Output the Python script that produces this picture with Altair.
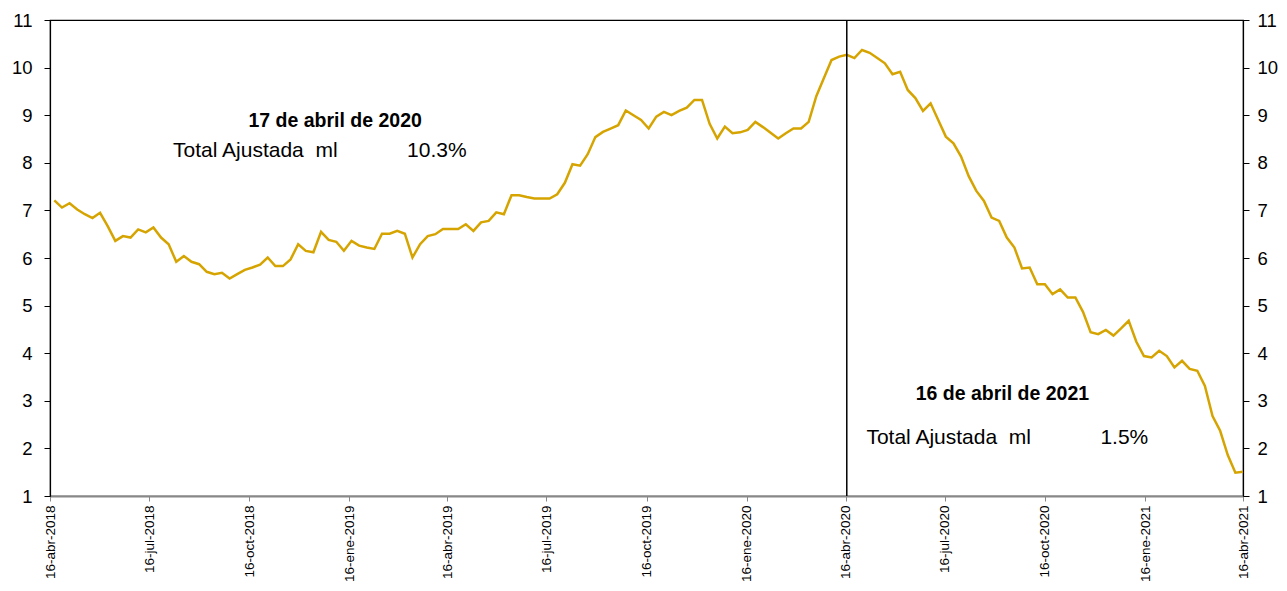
import altair as alt
import pandas as pd

# Weekly series (Fridays), 20-abr-2018 .. 16-abr-2021
serie_inicio = "2018-04-20"
tasa = [
    7.21, 7.06, 7.15, 7.02, 6.92, 6.84, 6.95, 6.67, 6.36, 6.46,
    6.43, 6.60, 6.54, 6.64, 6.43, 6.29, 5.92, 6.04, 5.92, 5.87,
    5.71, 5.66, 5.69, 5.57, 5.66, 5.75, 5.80, 5.86, 6.01, 5.83,
    5.83, 5.97, 6.29, 6.15, 6.12, 6.55, 6.38, 6.34, 6.15, 6.36,
    6.26, 6.22, 6.19, 6.51, 6.51, 6.57, 6.51, 6.01, 6.29, 6.46,
    6.50, 6.61, 6.61, 6.61, 6.71, 6.57, 6.75, 6.78, 6.96, 6.92,
    7.32, 7.32, 7.28, 7.25, 7.25, 7.25, 7.34, 7.58, 7.97, 7.94,
    8.18, 8.54, 8.65, 8.72, 8.79, 9.10, 9.00, 8.90, 8.72, 8.97,
    9.07, 9.00, 9.09, 9.16, 9.32, 9.32, 8.82, 8.51, 8.76, 8.62,
    8.64, 8.69, 8.86, 8.75, 8.63, 8.51, 8.62, 8.72, 8.72, 8.86,
    9.40, 9.78, 10.16, 10.23, 10.27, 10.20, 10.37, 10.31, 10.20, 10.09,
    9.86, 9.91, 9.53, 9.36, 9.09, 9.25, 8.90, 8.55, 8.41, 8.13,
    7.72, 7.41, 7.20, 6.85, 6.78, 6.43, 6.22, 5.78, 5.80, 5.45,
    5.45, 5.24, 5.34, 5.17, 5.17, 4.87, 4.44, 4.40, 4.49, 4.37,
    4.52, 4.68, 4.24, 3.94, 3.91, 4.05, 3.94, 3.70, 3.84, 3.67,
    3.63, 3.31, 2.68, 2.37, 1.86, 1.49, 1.51,
]

# Axis ticks (16th of each quarter) and Spanish month names
tick_fechas = [
    (2018, 4), (2018, 7), (2018, 10), (2019, 1), (2019, 4), (2019, 7),
    (2019, 10), (2020, 1), (2020, 4), (2020, 7), (2020, 10), (2021, 1), (2021, 4),
]
meses = ["ene", "feb", "mar", "abr", "may", "jun", "jul", "ago", "sep", "oct", "nov", "dic"]
y_ticks = [1, 2, 3, 4, 5, 6, 7, 8, 9, 10, 11]

# Vertical marker
marca_fecha = ["2020-04-17T00:00:00"]

# Annotations
titulos = ["17 de abril de 2020", "16 de abril de 2021"]
titulos_fecha = ["2019-01-03T00:00:00", "2020-09-07T00:00:00"]
titulos_y = [8.75, 3.02]

etiquetas = ["Total Ajustada\u00a0\u00a0ml", "10.3%", "Total Ajustada\u00a0\u00a0ml", "1.5%"]
etiquetas_fecha = ["2018-08-07T00:00:00", "2019-03-10T00:00:00",
                   "2020-05-05T00:00:00", "2020-12-06T00:00:00"]
etiquetas_y = [8.12, 8.12, 2.09, 2.09]

fechas = pd.date_range(serie_inicio, periods=len(tasa), freq="7D")
df = pd.DataFrame({"fecha": fechas.strftime("%Y-%m-%dT00:00:00"), "tasa": tasa})
df_marca = pd.DataFrame({"fecha": marca_fecha})
df_tit = pd.DataFrame({"fecha": titulos_fecha, "y": titulos_y, "t": titulos})
df_eti = pd.DataFrame({"fecha": etiquetas_fecha, "y": etiquetas_y, "t": etiquetas})

FONT = "Liberation Sans"
meses_expr = "[" + ",".join(f"'{m}'" for m in meses) + "]"
label_expr = f"'16-' + {meses_expr}[month(datum.value)] + '-' + year(datum.value)"

x_scale = alt.Scale(
    domain=[alt.DateTime(year=2018, month=4, date=16), alt.DateTime(year=2021, month=4, date=16)],
    nice=False,
)
y_scale = alt.Scale(domain=[1, 11], nice=False, zero=False)

x_enc = alt.X(
    "fecha:T",
    scale=x_scale,
    axis=alt.Axis(
        values=[alt.DateTime(year=a, month=m, date=16) for a, m in tick_fechas],
        labelExpr=label_expr,
        labelAngle=270,
        labelAlign="right",
        labelBaseline="middle",
        labelFontSize=13.5,
        labelFont=FONT,
        labelColor="black",
        labelPadding=4,
        tickSize=5,
        tickColor="#888888",
        domainColor="#888888",
        domainWidth=2,
        grid=False,
        title=None,
        labelOverlap=False,
    ),
)

def y_axis(orient, pad):
    return alt.Axis(
        orient=orient,
        values=y_ticks,
        labelFontSize=18.5,
        labelFont=FONT,
        labelColor="black",
        labelPadding=pad,
        tickSize=6,
        tickColor="black",
        domainColor="black",
        domainWidth=1.2,
        grid=False,
        title=None,
        labelFlush=False,
    )

linea = alt.Chart(df).mark_line(color="#D6A400", strokeWidth=2.5).encode(
    x=x_enc,
    y=alt.Y("tasa:Q", scale=y_scale, axis=y_axis("left", 12)),
)

regla = alt.Chart(df_marca).mark_rule(color="black", strokeWidth=1.5).encode(
    x=alt.X("fecha:T", scale=x_scale)
)

tit = alt.Chart(df_tit).mark_text(
    font=FONT, fontSize=19.5, fontWeight="bold", align="center", baseline="alphabetic", color="black"
).encode(
    x=alt.X("fecha:T", scale=x_scale),
    y=alt.Y("y:Q", scale=y_scale, axis=y_axis("left", 12)),
    text="t:N",
)

eti = alt.Chart(df_eti).mark_text(
    font=FONT, fontSize=21, align="left", baseline="alphabetic", color="black"
).encode(
    x=alt.X("fecha:T", scale=x_scale),
    y=alt.Y("y:Q", scale=y_scale, axis=y_axis("left", 12)),
    text="t:N",
)

derecha = alt.Chart(df).mark_line(opacity=0).encode(
    x=alt.X("fecha:T", scale=x_scale),
    y=alt.Y("tasa:Q", scale=y_scale, axis=y_axis("right", 8)),
)

chart = (
    alt.layer(alt.layer(linea, regla, tit, eti), derecha)
    .resolve_scale(y="independent")
    .properties(
        width=1193,
        height=476,
        autosize=alt.AutoSizeParams(type="none"),
        padding={"left": 42, "top": 12, "right": 36, "bottom": 87},
        background="white",
    )
    .configure_view(stroke="black", strokeWidth=1.2)
)

chart.save("out.html", embed_options={"renderer": "svg", "actions": False})
